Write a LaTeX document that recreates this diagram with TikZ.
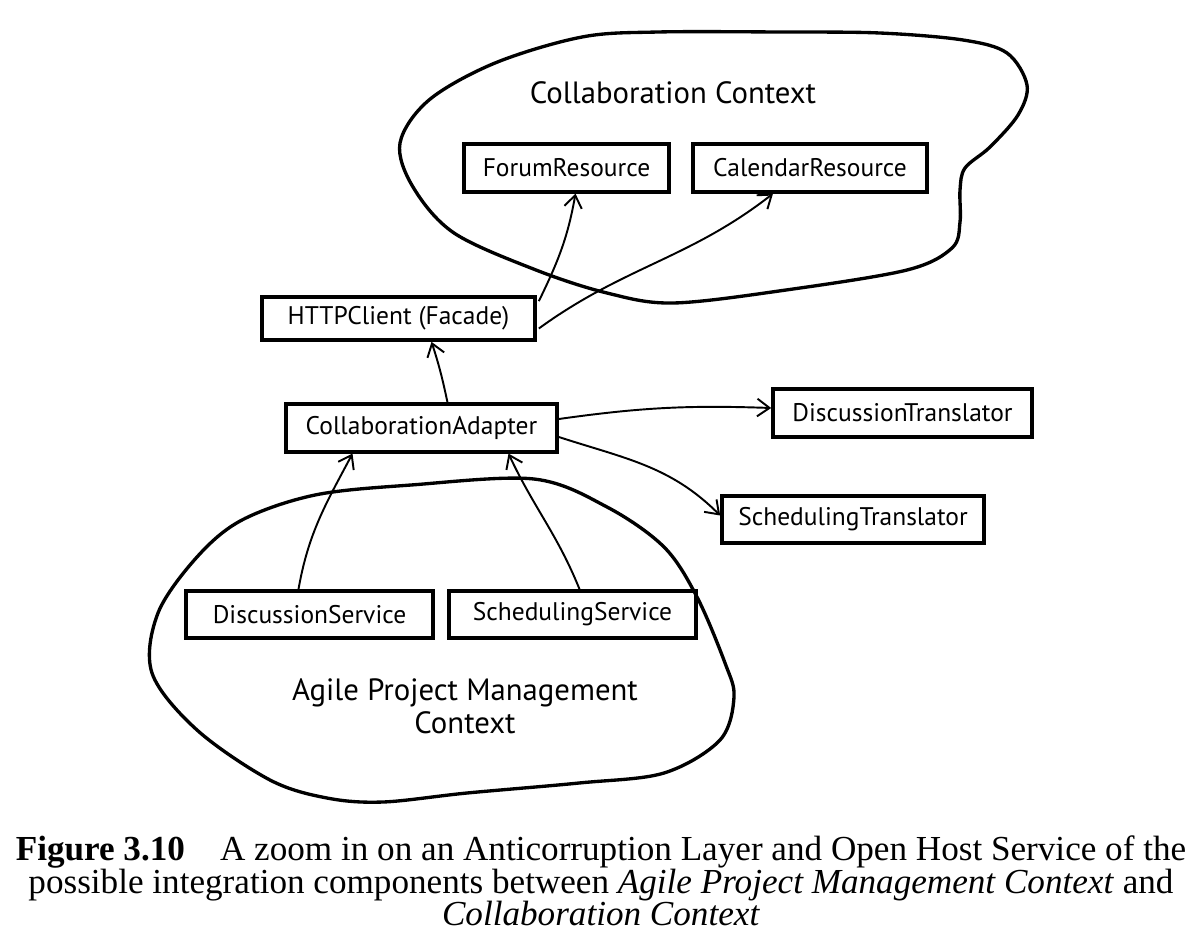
\documentclass[tikz,border=0pt]{standalone}
\usepackage{fontspec}
\setmainfont{Liberation Serif}
\newfontfamily\handfont{PT Sans}
\usetikzlibrary{arrows.meta,calc}
\tikzset{
  box/.style={draw, line width=2.1pt, minimum height=0.95cm, inner sep=0pt,
    font=\handfont\fontsize{14.5}{16}\selectfont},
  blob/.style={line width=1.9pt},
  ctxtitle/.style={font=\handfont\fontsize{17.5}{19}\selectfont, align=center},
  arr/.style={line width=1.1pt, -{Straight Barb[length=7pt,width=10pt,line width=1.1pt]}},
}
\begin{document}
\begin{tikzpicture}[x=0.02cm,y=-0.02cm]
\useasboundingbox (0,0) rectangle (1202,950);
% Collaboration context blob
\draw[blob] plot[smooth cycle, tension=0.55] coordinates {
  (582,37) (658,32) (780,32) (880,33) (963,40) (1007,53) (1027,85) (1018,115)
  (990,147) (965,168) (960,190) (960,222) (952,248) (907,270) (786,290)
  (673,303) (607,293) (536,270) (454,233) (413,187) (400,143) (429,100) (495,63)};
% Agile blob
\draw[blob] plot[smooth cycle, tension=0.55] coordinates {
  (534,479) (607,507) (664,547) (697,597) (725,663) (734,697) (720,740)
  (664,773) (579,783) (467,793) (383,802) (327,798) (270,780) (197,730)
  (152,673) (158,613) (197,557) (242,520) (315,495) (411,485)};
\node[ctxtitle] (ctitle) at (673,93) {Collaboration Context};
\node[ctxtitle] (atitle) at (465,706) {Agile Project Management\\Context};
% boxes
\node[box, minimum width=4.1cm] (forum) at (566.5,168) {ForumResource};
\node[box, minimum width=4.68cm] (cal) at (810,168) {CalendarResource};
\node[box, minimum width=5.46cm, minimum height=0.86cm] (http) at (398.5,318.5) {HTTPClient (Facade)};
\node[box, minimum width=5.42cm] (ca) at (421.5,428) {CollaborationAdapter};
\node[box, minimum width=5.18cm] (dt) at (902.5,413) {DiscussionTranslator};
\node[box, minimum width=5.24cm, minimum height=0.94cm] (st) at (853,519.5) {SchedulingTranslator};
\node[box, minimum width=4.94cm, minimum height=0.94cm] (ds) at (309.5,614.5) {DiscussionService};
\node[box, minimum width=4.94cm, minimum height=0.94cm] (ss) at (572.5,614.5) {SchedulingService};
% connectors
\draw[arr] ($(http.north east)+(2,6)$) to[out=64, in=-100] ($(forum.south)+(9,0)$);
\draw[arr] ($(http.east)+(2,10)$) to[out=36, in=-142] ($(cal.south)+(-37,0)$);
\draw[arr] ($(ca.north)+(26,0)$) to[out=102, in=-72] ($(http.south)+(33,0)$);
\draw[arr] ($(ca.east)+(0,-9)$) to[out=8, in=178] ($(dt.west)+(0,-5)$);
\draw[arr] ($(ca.east)+(0,9)$) to[out=-18, in=135] ($(st.west)+(0,-4)$);
\draw[arr] ($(ds.north)+(-11,0)$) to[out=80, in=-118] ($(ca.south)+(-69,0)$);
\draw[arr] ($(ss.north)+(7,0)$) to[out=112, in=-65] ($(ca.south)+(87,0)$);
% caption
\node[align=center, font=\fontsize{20}{18.6}\selectfont] (caption) at (601,881)
  {\textbf{Figure 3.10}\quad A zoom in on an Anticorruption Layer and Open Host Service of the\\
   possible integration components between \textit{Agile Project Management Context} and\\
   \textit{Collaboration Context}};
\end{tikzpicture}
\end{document}
